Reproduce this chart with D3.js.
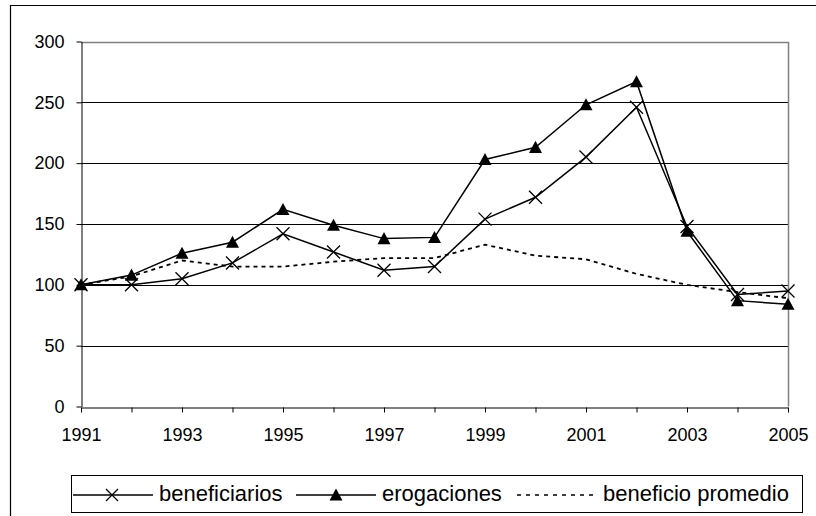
<!DOCTYPE html>
<html>
<head>
<meta charset="utf-8">
<script src="https://cdn.jsdelivr.net/npm/d3@7"></script>
<style>
  body { margin: 0; background: #fff; }
  svg { display: block; font-family: "Liberation Sans", Arial, sans-serif; }
</style>
</head>
<body>
<svg id="chart" width="816" height="516"></svg>
<script>
// Data (index numbers, 1991 = 100)
const years = [1991, 1992, 1993, 1994, 1995, 1996, 1997, 1998, 1999, 2000, 2001, 2002, 2003, 2004, 2005];
const beneficiarios = [100, 100, 105, 118, 142, 127, 112, 115, 154, 172, 205, 246, 148, 92, 95];
const erogaciones = [100, 108, 126, 135, 162, 149, 138, 139, 203, 213, 248, 267, 144, 87, 84];
const beneficioPromedio = [100, 107, 120, 115, 115, 119, 122, 122, 133, 124, 121, 109, 100, 94, 89];
const yTicks = [0, 50, 100, 150, 200, 250, 300];
const xTickLabels = [1991, 1993, 1995, 1997, 1999, 2001, 2003, 2005];
const seriesNames = ["beneficiarios", "erogaciones", "beneficio promedio"];

const svg = d3.select("#chart");

// Outer chart border (cropped at right / bottom)
svg.append("path")
    .attr("d", "M10.5,516 L10.5,5.5 L816,5.5")
    .attr("fill", "none")
    .attr("stroke", "#000")
    .attr("stroke-width", 1.2);

// Plot area
const plot = { left: 81, right: 788, top: 41.5, bottom: 406.5 };

const x = d3.scalePoint().domain(years).range([plot.left, plot.right]);
const y = d3.scaleLinear().domain([0, 300]).range([plot.bottom, plot.top]);

// Gridlines
svg.append("g")
    .selectAll("line")
    .data(yTicks.filter(t => t > 0 && t < 300))
    .join("line")
    .attr("x1", plot.left).attr("x2", plot.right)
    .attr("y1", d => Math.round(y(d)) + 0.5).attr("y2", d => Math.round(y(d)) + 0.5)
    .attr("stroke", "#000")
    .attr("stroke-width", 1);

// Plot border (top + right, gray)
svg.append("path")
    .attr("d", `M${plot.left},${Math.round(plot.top) + 0.5} L${plot.right + 0.5},${Math.round(plot.top) + 0.5} L${plot.right + 0.5},${plot.bottom}`)
    .attr("fill", "none")
    .attr("stroke", "#808080")
    .attr("stroke-width", 1.5);

// Y axis
const yAxis = svg.append("g")
    .attr("transform", `translate(${plot.left + 0.5},0)`)
    .call(d3.axisLeft(y).tickValues(yTicks).tickSize(5).tickSizeOuter(0).tickPadding(12));
yAxis.selectAll("text").attr("font-size", 18).attr("fill", "#000").attr("font-family", "Liberation Sans, Arial, sans-serif");
yAxis.selectAll("line, path").attr("stroke", "#000");

// X axis
const xAxis = svg.append("g")
    .attr("transform", `translate(0,${Math.round(plot.bottom) + 0.5})`)
    .call(d3.axisBottom(x).tickValues(years).tickSize(5).tickSizeOuter(0).tickPadding(16)
        .tickFormat(d => xTickLabels.includes(d) ? String(d) : ""));
xAxis.selectAll("text").attr("font-size", 18).attr("fill", "#000").attr("font-family", "Liberation Sans, Arial, sans-serif");
xAxis.selectAll("line, path").attr("stroke", "#000");

// Lines
const line = d3.line().x((d, i) => x(years[i])).y(d => y(d));

svg.append("path").datum(beneficiarios)
    .attr("d", line).attr("fill", "none").attr("stroke", "#000").attr("stroke-width", 1.5);
svg.append("path").datum(erogaciones)
    .attr("d", line).attr("fill", "none").attr("stroke", "#000").attr("stroke-width", 1.5);
svg.append("path").datum(beneficioPromedio)
    .attr("d", line).attr("fill", "none").attr("stroke", "#000").attr("stroke-width", 1.8)
    .attr("stroke-dasharray", "4,4");

// Markers
const crossPath = (cx, cy, s) => `M${cx - s},${cy - s}L${cx + s},${cy + s}M${cx - s},${cy + s}L${cx + s},${cy - s}`;
const triPath = (cx, cy, s) => `M${cx},${cy - s}L${cx + s},${cy + s * 0.85}L${cx - s},${cy + s * 0.85}Z`;

svg.append("g").selectAll("path")
    .data(beneficiarios)
    .join("path")
    .attr("d", (d, i) => crossPath(x(years[i]), y(d), 6.5))
    .attr("stroke", "#000").attr("stroke-width", 1.3).attr("fill", "none");

svg.append("g").selectAll("path")
    .data(erogaciones)
    .join("path")
    .attr("d", (d, i) => triPath(x(years[i]), y(d), 6.5))
    .attr("fill", "#000");

// Legend
const legend = svg.append("g");
legend.append("rect")
    .attr("x", 71.5).attr("y", 475.5).attr("width", 731).attr("height", 37)
    .attr("fill", "#fff").attr("stroke", "#000").attr("stroke-width", 1);

const legendItems = [
    { name: seriesNames[0], x: 73, marker: "cross", dash: null },
    { name: seriesNames[1], x: 296, marker: "tri", dash: null },
    { name: seriesNames[2], x: 517, marker: null, dash: "4,5" }
];
const ly = 495;
legendItems.forEach(it => {
    legend.append("line")
        .attr("x1", it.x).attr("x2", it.x + 80).attr("y1", ly).attr("y2", ly)
        .attr("stroke", "#000").attr("stroke-width", 1.5)
        .attr("stroke-dasharray", it.dash);
    if (it.marker === "cross") {
        legend.append("path").attr("d", crossPath(it.x + 39, ly, 6))
            .attr("stroke", "#000").attr("stroke-width", 1.3);
    } else if (it.marker === "tri") {
        legend.append("path").attr("d", triPath(it.x + 40, ly, 6.5)).attr("fill", "#000");
    }
    legend.append("text")
        .attr("x", it.x + 86).attr("y", 500.5)
        .attr("font-size", 22)
        .text(it.name);
});
</script>
</body>
</html>
